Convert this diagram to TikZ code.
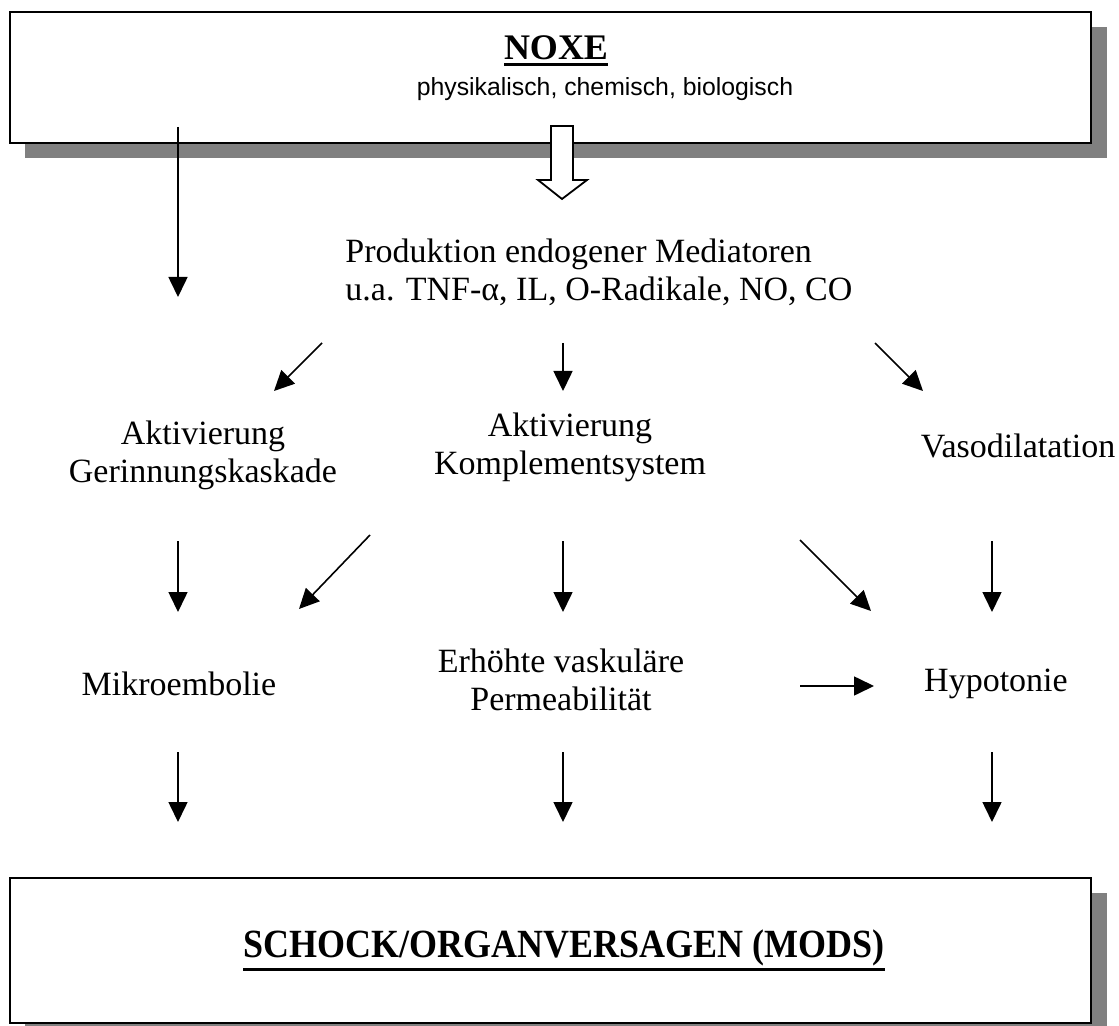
\documentclass[tikz,border=0pt]{standalone}
\usepackage{fontspec}
\setmainfont{Liberation Serif}
\newfontfamily\arialf{Liberation Sans}
\newcommand\thickul[2][1.5pt]{\leavevmode\vtop{\hbox{#2}\kern1.2pt\hrule height #1}}
\usetikzlibrary{arrows.meta}
\definecolor{shadowgray}{HTML}{808080}
\begin{document}
\begin{tikzpicture}[x=0.5pt,y=-0.5pt,
  box/.style={draw=black,line width=1pt,fill=white,inner sep=0pt,anchor=north west,minimum width=540.5pt},
  txt/.style={font=\fontsize{17}{19}\selectfont,align=center,inner sep=0pt},
  arr/.style={-{Triangle[length=10pt,width=9.5pt]},line width=0.8pt},
  hollow/.style={draw=black,line width=0.9pt,fill=white,line join=miter},
]
\useasboundingbox (0,0) rectangle (1119,1026);
% top box with shadow
\fill[shadowgray] (25,27) rectangle (1107,158);
\node[box,minimum height=65.5pt] (noxebox) at (9,11) {};
\node[inner sep=0pt,anchor=base,font=\fontsize{18}{20}\selectfont\bfseries] (noxe) at (556,60) {\thickul{NOXE}};
\node[inner sep=0pt,font=\arialf\fontsize{12.4}{14}\selectfont] (noxesub) at (605,89) {physikalisch, chemisch, biologisch};
% bottom box with shadow
\fill[shadowgray] (25,893) rectangle (1107,1026);
\node[box,minimum height=72.5pt] (schockbox) at (9,877) {};
\node[inner sep=0pt,anchor=base,font=\fontsize{20}{22}\selectfont\bfseries] (schock) at (564,957) {\thickul{\scalebox{0.9}[1]{SCHOCK/ORGANVERSAGEN (MODS)}}};

% text nodes
\node[txt,align=left,anchor=west] (prod) at (345,272) {Produktion endogener Mediatoren\\u.a. TNF-α, IL, O-Radikale, NO, CO};
\node[txt] (gerinn) at (203,455) {Aktivierung\\Gerinnungskaskade};
\node[txt] (kompl) at (570,447) {Aktivierung\\Komplementsystem};
\node[txt] (vaso) at (1018,446) {Vasodilatation};
\node[txt] (mikro) at (179,684) {Mikroembolie};
\node[txt] (perm) at (561,680) {Erhöhte vaskuläre\\Permeabilität};
\node[txt] (hypo) at (996,684) {Hypotonie};

% hollow arrow from NOXE to Produktion
\draw[hollow] (551,126) -- (573,126) -- (573,180) -- (587,180) -- (562,199) -- (538,180) -- (551,180) -- cycle;

% named arrow end points
\coordinate (a0s) at (178,127);  \coordinate (a0e) at (178,297);
\coordinate (a1s) at (322,343);  \coordinate (a1e) at (274,391);
\coordinate (a2s) at (563,343);  \coordinate (a2e) at (563,391);
\coordinate (a3s) at (875,343);  \coordinate (a3e) at (923,391);
\coordinate (b1s) at (178,541);  \coordinate (b1e) at (178,612);
\coordinate (b2s) at (370,535);  \coordinate (b2e) at (299,609);
\coordinate (b3s) at (563,541);  \coordinate (b3e) at (563,612);
\coordinate (b4s) at (800,540);  \coordinate (b4e) at (871,611);
\coordinate (b5s) at (992,541);  \coordinate (b5e) at (992,612);
\coordinate (hs) at (800,686);   \coordinate (he) at (874,686);
\coordinate (c1s) at (178,752);  \coordinate (c1e) at (178,822);
\coordinate (c2s) at (563,752);  \coordinate (c2e) at (563,822);
\coordinate (c3s) at (992,752);  \coordinate (c3e) at (992,822);

\foreach \s/\e in {a0s/a0e,a1s/a1e,a2s/a2e,a3s/a3e,b1s/b1e,b2s/b2e,b3s/b3e,b4s/b4e,b5s/b5e,hs/he,c1s/c1e,c2s/c2e,c3s/c3e}
  \draw[arr] (\s) -- (\e);
\end{tikzpicture}
\end{document}
